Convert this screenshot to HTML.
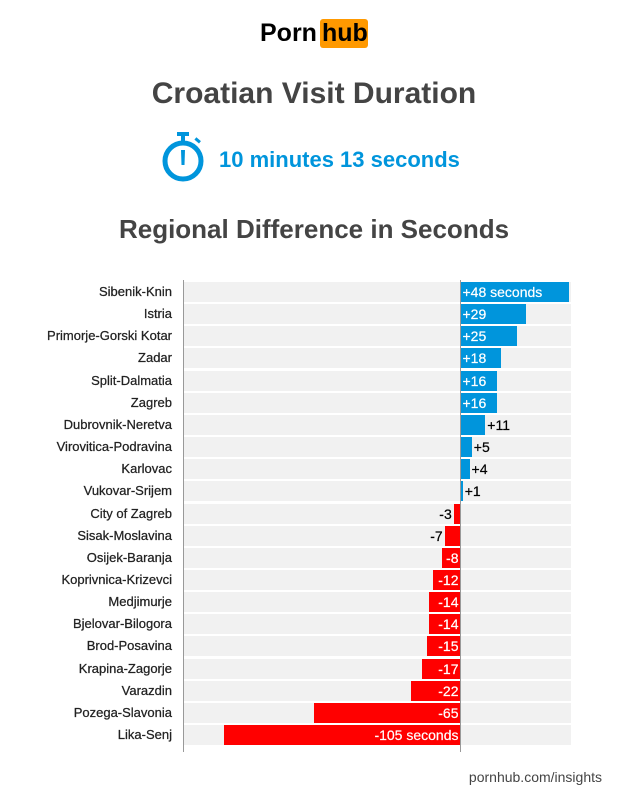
<!DOCTYPE html>
<html><head><meta charset="utf-8"><style>
body{margin:0;width:628px;height:810px;background:#fff;font-family:"Liberation Sans",Arial,sans-serif;position:relative;overflow:hidden}
.a{position:absolute;white-space:nowrap}
.lab{position:absolute;right:456px;font-size:13px;color:#222;line-height:20px;-webkit-text-stroke:0.25px #222}
.bg{position:absolute;left:184px;width:387px;height:20px;background:#f1f1f1}
.bar{position:absolute;height:20px}
.t{position:absolute;font-size:14px;line-height:20px;white-space:nowrap;-webkit-text-stroke:0.2px currentColor}
</style></head><body>
<div class="a" style="left:260px;top:17px;font-size:25px;font-weight:bold;color:#000;line-height:32px">Porn</div>
<div class="a" style="left:320px;top:19px;width:48px;height:29px;background:#ff9900;border-radius:3px"></div>
<div class="a" style="left:322px;top:17px;font-size:25px;font-weight:bold;color:#000;line-height:32px">hub</div>
<div class="a" style="left:0;width:628px;text-align:center;top:77px;font-size:30px;font-weight:bold;color:#444">Croatian Visit Duration</div>
<svg class="a" style="left:160px;top:131px" width="48" height="52" viewBox="0 0 48 52">
<rect x="17" y="1" width="12" height="4" fill="#0095dc"/>
<rect x="21" y="4" width="4" height="6" fill="#0095dc"/>
<rect x="35" y="8" width="6" height="3" fill="#0095dc" transform="rotate(40 38 9)"/>
<circle cx="23" cy="30" r="18" fill="none" stroke="#0095dc" stroke-width="5"/>
<path d="M21 19 L25 19 L24.5 34 L21.5 34Z" fill="#0095dc"/>
</svg>
<div class="a" style="left:219px;top:147px;font-size:22px;font-weight:bold;color:#0095dc">10 minutes 13 seconds</div>
<div class="a" style="left:0;width:628px;text-align:center;top:214px;font-size:26px;font-weight:bold;color:#444">Regional Difference in Seconds</div>
<div id="c"></div>
<div class="a" style="left:183px;top:280px;width:1px;height:472px;background:#999"></div>
<div class="a" style="left:460px;top:280px;width:1px;height:472px;background:#999"></div>
<div class="a" style="right:26px;top:769px;font-size:14px;color:#444">pornhub.com/insights</div>
<script>
var d=[["Sibenik-Knin",48,"+48 seconds"],["Istria",29],["Primorje-Gorski Kotar",25],["Zadar",18],["Split-Dalmatia",16],["Zagreb",16],["Dubrovnik-Neretva",11],["Virovitica-Podravina",5],["Karlovac",4],["Vukovar-Srijem",1],["City of Zagreb",-3],["Sisak-Moslavina",-7],["Osijek-Baranja",-8],["Koprivnica-Krizevci",-12],["Medjimurje",-14],["Bjelovar-Bilogora",-14],["Brod-Posavina",-15],["Krapina-Zagorje",-17],["Varazdin",-22],["Pozega-Slavonia",-65],["Lika-Senj",-105,"-105 seconds"]];
var h="",z=460.5,s=2.255;
d.forEach(function(r,i){var y=(282+i*22.15).toFixed(1),v=r[1],txt=r[2]||(v>0?"+"+v:""+v),w=Math.abs(v)*s;
h+='<div class="lab" style="top:'+y+'px">'+r[0]+'</div><div class="bg" style="top:'+y+'px"></div>';
if(v>0){h+='<div class="bar" style="top:'+y+'px;left:'+z+'px;width:'+w+'px;background:#0095dc"></div>';
if(v>=16)h+='<div class="t" style="top:'+y+'px;left:'+(z+2)+'px;color:#fff">'+txt+'</div>';
else h+='<div class="t" style="top:'+y+'px;left:'+(z+w+2)+'px;color:#000">'+txt+'</div>';}
else{h+='<div class="bar" style="top:'+y+'px;left:'+(z-w)+'px;width:'+w+'px;background:#ff0000"></div>';
if(v<=-8)h+='<div class="t" style="top:'+y+'px;right:'+(628-z+2)+'px;color:#fff">'+txt+'</div>';
else h+='<div class="t" style="top:'+y+'px;right:'+(628-z+w+2)+'px;color:#000">'+txt+'</div>';}
});
document.getElementById("c").innerHTML=h;
</script>
</body></html>
